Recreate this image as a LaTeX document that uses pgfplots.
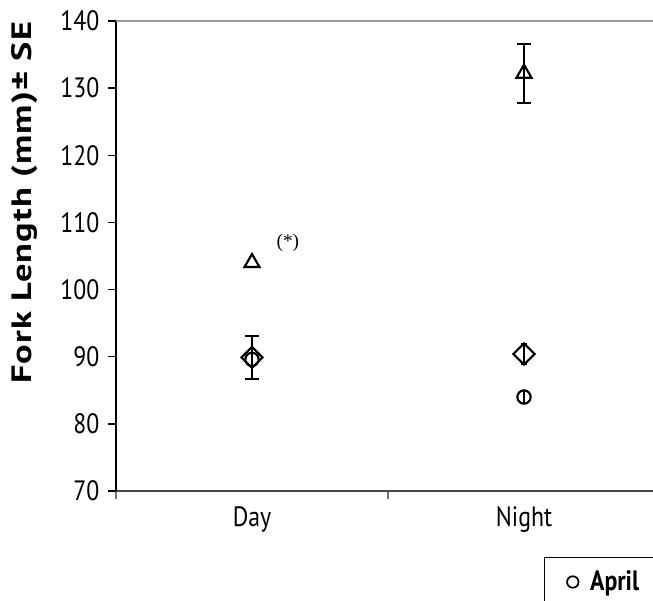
\documentclass[border=0pt]{standalone}
\usepackage{pgfplots}
\pgfplotsset{compat=1.18}
\usepackage{fontspec}
\setmainfont{PT Sans}[FakeStretch=0.85]
\newfontfamily\ylabfont{PT Sans}[FakeStretch=1.3, LetterSpace=4]
\newfontfamily\starfont{Liberation Serif}

% Mean fork length +/- SE, by diel period
\pgfplotstableread{
x    y      e
0.5  89.6   0.8
1.5  84.0   0.9
}\circdata
\pgfplotstableread{
x    y      e
0.5  89.9   3.2
}\diamday
\pgfplotstableread{
x    y      e
1.5  90.4   1.5
}\diamnight
% single fish by day (no SE)
\pgfplotstableread{
x    y
0.5  104.0
}\tridayda
\pgfplotstableread{
x    y      e
1.5  132.2  4.4
}\trinight

\begin{document}
\begin{tikzpicture}
\begin{axis}[
  scale only axis,
  width=408pt, height=352.5pt,
  xmin=0, xmax=2, ymin=70, ymax=140,
  axis x line*=bottom, axis y line*=left,
  x axis line style={-, draw=black!72, line width=1.5pt},
  y axis line style={-, draw=black, line width=1pt},
  tick align=outside,
  major tick length=6pt,
  xtick={0,1,2}, xticklabels={},
  xtick style={draw=black!55, line width=1pt},
  extra x ticks={0.5,1.5},
  extra x tick labels={Day,Night},
  extra x tick style={major tick length=0pt, xticklabel style={yshift=-8pt}},
  ytick={70,80,...,140},
  ytick style={draw=black, line width=1pt},
  yticklabel style={xshift=-3pt},
  /pgf/number format/assume math mode=true,
  tick label style={font=\fontsize{21}{25}\selectfont},
  ylabel={Fork Length (mm)\textpm{} SE},
  ylabel style={at={(axis description cs:-0.1673,0.613)}, anchor=center,
    font=\ylabfont\bfseries\fontsize{21}{25}\selectfont},
  legend style={at={(axis description cs:0.787,-0.1405)}, anchor=north west,
    draw=black, line width=1pt, font=\fontsize{21}{25}\selectfont\bfseries,
    inner xsep=2pt, inner ysep=8pt},
  legend image code/.code={
    \path[draw=none, fill=none] (0pt,0pt) (30pt,0pt);
    \draw[mark repeat=2, mark phase=2, #1, mark size=4.3pt, line width=1.3pt]
      plot coordinates {(0pt,0pt) (19pt,0pt) (30pt,0pt)};
  },
  error bars/error bar style={line width=1.5pt, black},
  error bars/error mark options={rotate=90, line width=1.5pt, black, mark size=4.9pt},
  clip=false,
]
\addplot[black, only marks, mark=o, mark size=5pt, line width=1.6pt,
  error bars/.cd, y dir=both, y explicit, error mark=none]
  table[x=x, y=y, y error=e]{\circdata};
\addlegendentry{\makebox[100pt][l]{April}}
\addplot[black, only marks, mark=square, mark size=5.6pt, line width=1.6pt,
  mark options={rotate=45},
  error bars/.cd, y dir=both, y explicit]
  table[x=x, y=y, y error=e]{\diamday};
\addplot[black, only marks, mark=square, mark size=5.6pt, line width=1.6pt,
  mark options={rotate=45},
  error bars/.cd, y dir=both, y explicit,
  error mark options={rotate=90, line width=1.5pt, black, mark size=2.5pt}]
  table[x=x, y=y, y error=e]{\diamnight};
\addplot[black, only marks, mark=triangle, mark size=6.5pt, line width=1.6pt]
  table[x=x, y=y]{\tridayda};
\addplot[black, only marks, mark=triangle, mark size=6.5pt, line width=1.6pt,
  error bars/.cd, y dir=both, y explicit]
  table[x=x, y=y, y error=e]{\trinight};
\draw[black!40, line width=1.5pt] (rel axis cs:0,1) -- (rel axis cs:1,1);
\node[font=\starfont\fontsize{14.5}{17}\selectfont] at (axis cs:0.632,106.9) {(*)};
\coordinate (bl) at (rel axis cs:0,0);
\end{axis}
\pgfresetboundingbox
\path[use as bounding box] ([shift={(-87pt,-81.75pt)}]bl) rectangle ([shift={(402.75pt,368.25pt)}]bl);
\end{tikzpicture}
\end{document}
